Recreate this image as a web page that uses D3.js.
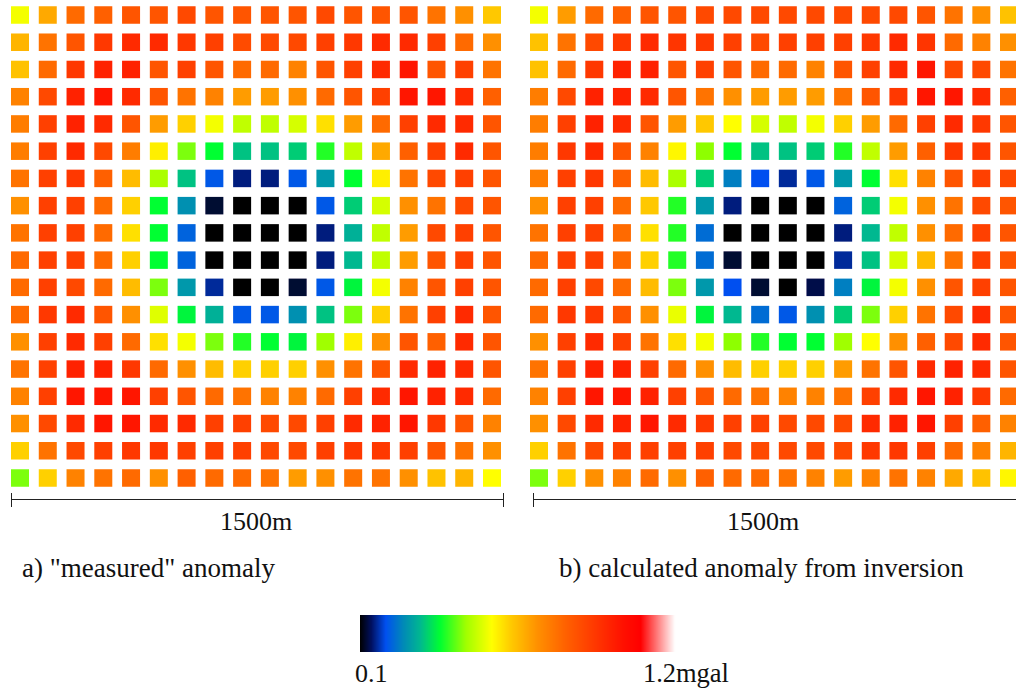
<!DOCTYPE html>
<html>
<head>
<meta charset="utf-8">
<script src="https://cdn.jsdelivr.net/npm/d3@7"></script>
<style>
    body { margin: 0; background: #fff; }
    svg text { font-family: "Liberation Serif", "Times New Roman", Times, "DejaVu Serif", serif; }
</style>
</head>
<body>
<script>
// gravity anomaly in mgal, 18 x 18 stations, row 0 = top
const measured = [
    [0.55,0.68,0.80,0.82,0.85,0.85,0.88,0.85,0.85,0.85,0.85,0.88,0.85,0.85,0.85,0.78,0.72,0.63],
    [0.66,0.78,0.85,0.92,0.95,0.95,0.92,0.90,0.87,0.88,0.88,0.90,0.92,0.95,0.95,0.90,0.80,0.72],
    [0.64,0.80,0.92,0.97,0.98,0.85,0.90,0.85,0.80,0.80,0.75,0.85,0.90,0.95,1.00,0.85,0.90,0.78],
    [0.75,0.88,0.98,1.00,0.95,0.85,0.78,0.75,0.70,0.70,0.72,0.80,0.85,0.90,1.00,1.00,0.95,0.82],
    [0.76,0.90,0.98,0.95,0.85,0.70,0.62,0.55,0.50,0.50,0.52,0.60,0.70,0.80,0.90,0.95,0.95,0.85],
    [0.76,0.90,0.95,0.88,0.76,0.58,0.45,0.38,0.32,0.32,0.33,0.40,0.50,0.68,0.82,0.90,0.95,0.85],
    [0.78,0.90,0.92,0.82,0.65,0.48,0.32,0.20,0.15,0.15,0.20,0.27,0.38,0.58,0.78,0.88,0.90,0.85],
    [0.72,0.90,0.90,0.80,0.62,0.38,0.26,0.12,0.10,0.10,0.10,0.20,0.33,0.52,0.72,0.78,0.88,0.85],
    [0.78,0.90,0.90,0.80,0.60,0.38,0.21,0.10,0.10,0.10,0.10,0.15,0.30,0.50,0.70,0.88,0.90,0.85],
    [0.80,0.90,0.90,0.80,0.62,0.38,0.21,0.10,0.10,0.10,0.10,0.15,0.31,0.50,0.70,0.85,0.90,0.85],
    [0.80,0.90,0.88,0.80,0.65,0.45,0.27,0.16,0.10,0.10,0.12,0.20,0.37,0.55,0.75,0.85,0.90,0.85],
    [0.80,0.92,0.95,0.85,0.72,0.53,0.37,0.30,0.20,0.20,0.26,0.32,0.45,0.62,0.78,0.90,0.95,0.85],
    [0.72,0.90,0.95,0.90,0.80,0.60,0.55,0.45,0.40,0.38,0.37,0.47,0.58,0.72,0.85,0.82,0.95,0.85],
    [0.78,0.90,0.98,0.98,0.92,0.80,0.72,0.65,0.62,0.62,0.62,0.72,0.78,0.85,0.95,0.97,0.95,0.85],
    [0.75,0.90,1.00,1.00,1.00,0.90,0.85,0.80,0.78,0.75,0.75,0.80,0.90,0.95,1.00,0.98,0.95,0.80],
    [0.72,0.88,0.95,1.00,1.00,0.95,0.95,0.90,0.90,0.88,0.88,0.90,0.95,0.98,1.00,0.92,0.85,0.75],
    [0.62,0.78,0.88,0.90,0.92,0.92,0.90,0.90,0.90,0.88,0.88,0.90,0.92,0.92,0.90,0.85,0.78,0.72],
    [0.45,0.62,0.75,0.78,0.80,0.72,0.82,0.80,0.80,0.78,0.70,0.72,0.78,0.78,0.72,0.64,0.66,0.56]
]

const calculated = [
    [0.55,0.70,0.80,0.82,0.85,0.85,0.88,0.88,0.88,0.88,0.88,0.88,0.88,0.88,0.85,0.78,0.72,0.64],
    [0.64,0.78,0.88,0.92,0.95,0.93,0.92,0.90,0.88,0.90,0.90,0.90,0.92,0.95,0.93,0.80,0.75,0.72],
    [0.64,0.80,0.92,0.97,0.97,0.85,0.90,0.85,0.80,0.80,0.75,0.85,0.90,0.95,1.00,0.88,0.88,0.78],
    [0.76,0.88,0.98,0.98,0.95,0.85,0.78,0.72,0.70,0.70,0.70,0.78,0.85,0.92,1.00,1.00,0.95,0.82],
    [0.76,0.90,0.98,0.95,0.85,0.70,0.63,0.56,0.52,0.50,0.55,0.62,0.70,0.80,0.90,0.95,0.92,0.85],
    [0.76,0.92,0.95,0.85,0.75,0.57,0.46,0.38,0.32,0.32,0.33,0.40,0.50,0.70,0.82,0.92,0.92,0.85],
    [0.76,0.90,0.92,0.82,0.65,0.48,0.33,0.24,0.19,0.16,0.20,0.27,0.38,0.60,0.75,0.85,0.90,0.88],
    [0.72,0.90,0.90,0.80,0.63,0.40,0.27,0.15,0.10,0.10,0.10,0.21,0.33,0.55,0.72,0.78,0.88,0.85],
    [0.78,0.90,0.90,0.80,0.60,0.40,0.22,0.10,0.10,0.10,0.10,0.15,0.31,0.50,0.72,0.80,0.90,0.85],
    [0.80,0.90,0.90,0.80,0.62,0.40,0.22,0.12,0.10,0.10,0.10,0.16,0.32,0.52,0.65,0.78,0.90,0.85],
    [0.80,0.90,0.88,0.80,0.65,0.45,0.27,0.19,0.12,0.10,0.13,0.24,0.37,0.55,0.72,0.85,0.90,0.85],
    [0.80,0.92,0.92,0.85,0.72,0.54,0.37,0.31,0.22,0.20,0.26,0.33,0.45,0.62,0.78,0.88,0.95,0.85],
    [0.72,0.90,0.95,0.90,0.78,0.60,0.55,0.46,0.40,0.38,0.38,0.47,0.56,0.72,0.82,0.88,0.95,0.85],
    [0.78,0.90,0.98,0.97,0.90,0.80,0.72,0.65,0.62,0.62,0.62,0.70,0.78,0.85,0.95,0.97,0.95,0.85],
    [0.75,0.90,1.00,1.00,0.98,0.90,0.85,0.80,0.78,0.75,0.75,0.78,0.90,0.95,1.00,0.97,0.92,0.80],
    [0.72,0.88,0.95,0.97,1.00,0.95,0.92,0.90,0.90,0.88,0.88,0.88,0.95,0.98,1.00,0.90,0.82,0.75],
    [0.62,0.78,0.88,0.90,0.90,0.90,0.90,0.88,0.88,0.88,0.88,0.88,0.92,0.92,0.90,0.80,0.75,0.66],
    [0.45,0.62,0.72,0.75,0.80,0.72,0.82,0.80,0.80,0.78,0.75,0.70,0.75,0.78,0.75,0.68,0.64,0.57]
]

const panelTitles = ['a) "measured" anomaly', 'b) calculated anomaly from inversion']
const distanceLabel = '1500m'
const legendMin = 0.1
const legendMax = 1.2
const legendTicks = ['0.1', '1.2mgal']

const width = 1016
const height = 692

const svg = d3.select('body').append('svg')
    .attr('width', width)
    .attr('height', height)

svg.append('defs').append('filter')
    .attr('id', 'soft')
    .attr('x', '-20%').attr('y', '-20%')
    .attr('width', '140%').attr('height', '140%')
    .append('feGaussianBlur')
    .attr('stdDeviation', 0.6)

// rainbow: black -> blue -> green -> yellow -> red -> white
const color = d3.scaleLinear()
    .domain([0.10, 0.14, 0.19, 0.25, 0.31, 0.38, 0.47, 0.56, 0.63, 0.72, 0.82, 0.92, 1.02, 1.08, 1.20])
    .range(['#000000', '#001060', '#0050f0', '#0088b8', '#00b890', '#00ff30', '#a0ff00', '#ffff00',
            '#ffc800', '#ff9000', '#ff6000', '#ff3800', '#ff1000', '#ff0000', '#ffffff'])
    .clamp(true)

const idx = d3.range(18)
const y = d3.scalePoint().domain(idx).range([15, 478])
const cellW = 18
const cellH = 17.5

const panels = [
    { data: measured, x: d3.scalePoint().domain(idx).range([20, 492]), bar: [11, 503], label: 256, title: 22 },
    { data: calculated, x: d3.scalePoint().domain(idx).range([539, 1009]), bar: [533, 1018], label: 763, title: 559 }
]

function label(x, yy, str, size, anchor) {
    svg.append('text')
        .attr('x', x)
        .attr('y', yy)
        .attr('text-anchor', anchor || 'start')
        .attr('font-size', size)
        .attr('fill', '#111')
        .text(str)
}

panels.forEach((p, k) => {
    const cells = []
    p.data.forEach((row, r) => row.forEach((v, c) => cells.push({ r, c, v })))

    svg.append('g')
        .attr('filter', 'url(#soft)')
        .selectAll('rect')
        .data(cells)
        .enter()
        .append('rect')
        .attr('x', d => p.x(d.c) - cellW / 2)
        .attr('y', d => y(d.r) - cellH / 2)
        .attr('width', cellW)
        .attr('height', cellH)
        .attr('fill', d => color(d.v))

    // distance bar
    const barY = 499.5
    svg.append('line')
        .attr('x1', p.bar[0]).attr('x2', p.bar[1])
        .attr('y1', barY).attr('y2', barY)
        .attr('stroke', '#222').attr('stroke-width', 1)
    p.bar.forEach(bx => {
        svg.append('line')
            .attr('x1', bx + 0.5).attr('x2', bx + 0.5)
            .attr('y1', 493).attr('y2', 507)
            .attr('stroke', '#222').attr('stroke-width', 1)
    })

    label(p.label, 530, distanceLabel, 26, 'middle')
    label(p.title, 577, panelTitles[k], 27)
})

// colour legend
const lx = d3.scaleLinear().domain([legendMin, legendMax]).range([360, 675])
const steps = d3.range(0, 315)
svg.append('g')
    .selectAll('rect')
    .data(steps)
    .enter()
    .append('rect')
    .attr('x', i => 360 + i)
    .attr('y', 615)
    .attr('width', 1.2)
    .attr('height', 37)
    .attr('fill', i => color(lx.invert(360 + i + 0.5)))

label(355, 682, legendTicks[0], 26)
label(729, 682, legendTicks[1], 26.5, 'end')
</script>
</body>
</html>
